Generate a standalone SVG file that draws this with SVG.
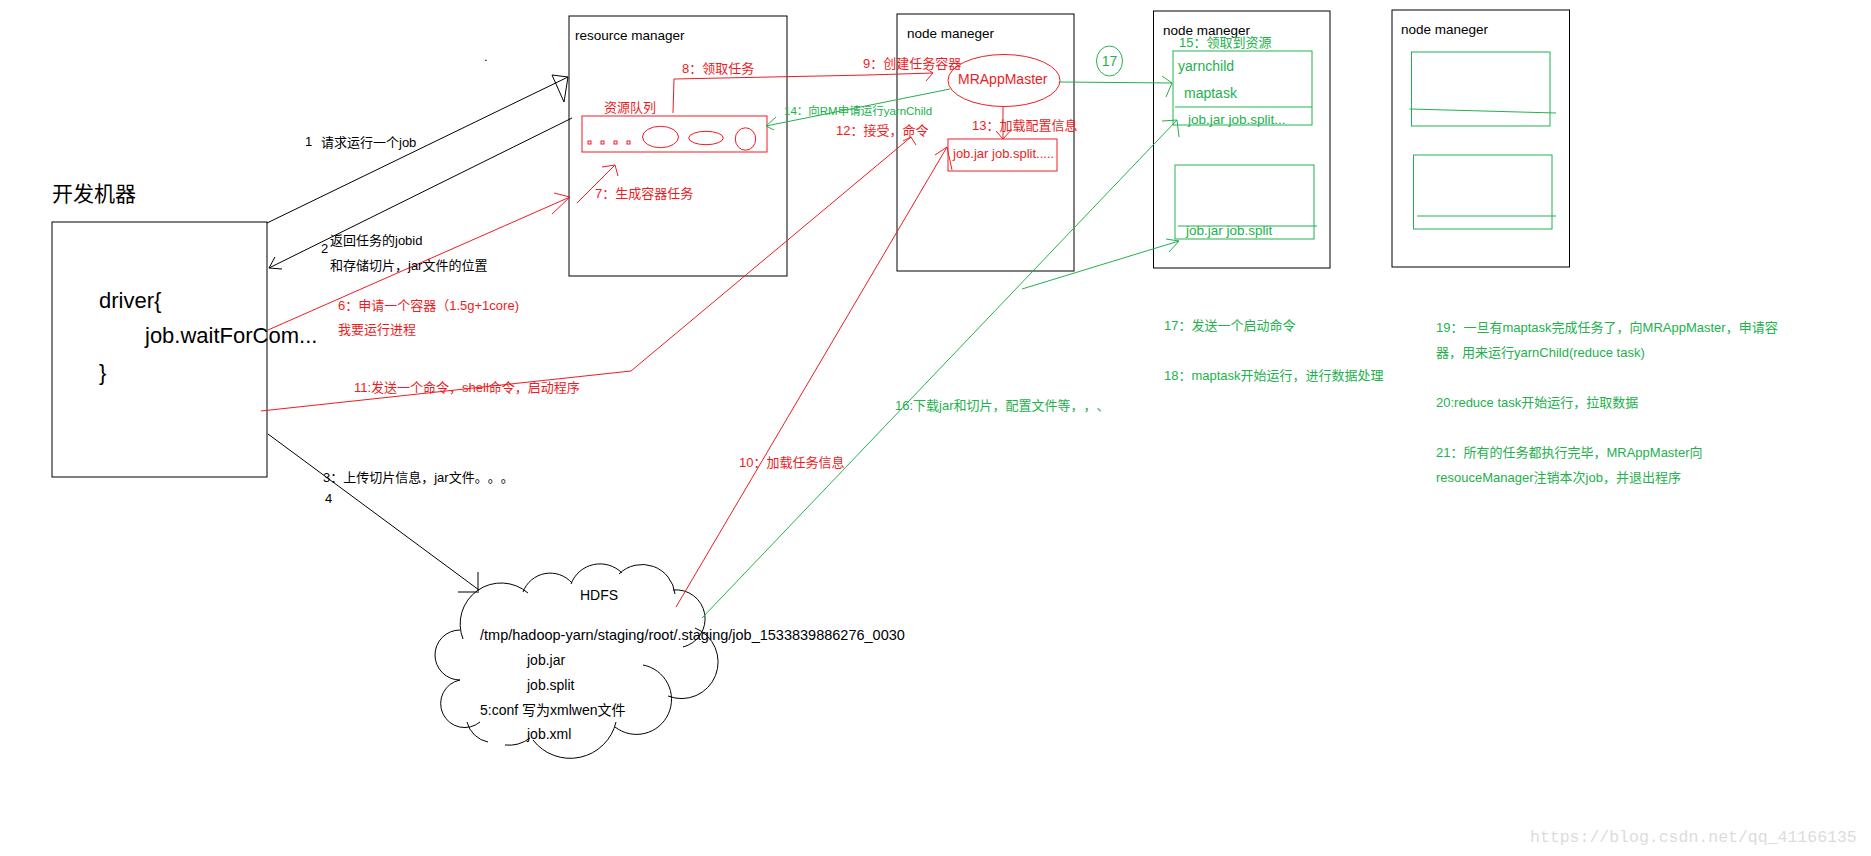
<svg xmlns="http://www.w3.org/2000/svg" width="1871" height="856" viewBox="0 0 1871 856">
<style>
text{font-family:"Liberation Sans","Noto Sans CJK SC",sans-serif;font-size:13px;text-spacing-trim:space-all}
.k{fill:#000}
.r{fill:#ED1C24}
.g{fill:#22B14C}
.sk{fill:none;stroke:#000;stroke-width:1}
.sr{fill:none;stroke:#ED1C24;stroke-width:1}
.sg{fill:none;stroke:#22B14C;stroke-width:1}
.big{font-size:22px}
.t135{font-size:13.5px}
.t14{font-size:14px}
.wm{font-family:"Liberation Mono",monospace;font-size:16.5px;fill:#dcdcdc}
</style>
<rect width="1871" height="856" fill="#fff"/>

<g id="driver">
  <text class="k" x="52" y="201" style="font-size:21px">开发机器</text>
  <rect class="sk" x="52" y="222" width="215" height="255"/>
  <text class="k big" x="99" y="308">driver{</text>
  <text class="k big" x="145" y="343">job.waitForCom...</text>
  <text class="k big" x="99" y="380">}</text>
</g>

<g id="resource-manager">
  <rect class="sk" x="569" y="16" width="218" height="260"/>
  <text class="k t135" x="575" y="40">resource manager</text>
  <text class="k" x="484" y="61">.</text>
</g>

<g id="resource-queue">
  <text class="r" x="604" y="112">资源队列</text>
  <rect class="sr" x="582" y="116" width="185" height="36"/>
  <rect class="sr" x="588" y="141" width="3" height="3"/>
  <rect class="sr" x="601" y="141" width="3" height="3"/>
  <rect class="sr" x="614" y="141" width="3" height="3"/>
  <rect class="sr" x="627" y="141" width="3" height="3"/>
  <ellipse class="sr" cx="660.5" cy="137" rx="18" ry="10.7"/>
  <ellipse class="sr" cx="706" cy="138" rx="17.3" ry="6.7"/>
  <ellipse class="sr" cx="745.5" cy="139" rx="10.2" ry="11.2"/>
</g>

<g id="node-manager-1">
  <rect class="sk" x="897" y="14" width="177" height="257"/>
  <text class="k t135" x="907" y="38">node maneger</text>
</g>

<g id="mrappmaster">
  <ellipse class="sr" cx="1004" cy="80.5" rx="56" ry="26"/>
  <text class="r t14" x="958" y="84">MRAppMaster</text>
</g>

<g id="nm1-files">
  <rect class="sr" x="948" y="139" width="109" height="32"/>
  <text class="r" x="953" y="158">job.jar job.split.....</text>
</g>

<g id="node-manager-2">
  <rect class="sk" x="1153.5" y="11" width="176.5" height="257"/>
  <text class="k t135" x="1163" y="35">node maneger</text>
</g>

<g id="nm2-container-1">
  <rect class="sg" x="1173" y="51" width="139" height="74"/>
  <line class="sg" x1="1175" y1="107" x2="1312" y2="107"/>
  <text class="g t14" x="1178" y="71">yarnchild</text>
  <text class="g t14" x="1184" y="98">maptask</text>
  <text class="g t135" x="1188" y="124">job.jar job.split...</text>
</g>

<g id="nm2-container-2">
  <rect class="sg" x="1175" y="165" width="139" height="74"/>
  <line class="sg" x1="1178" y1="226" x2="1317" y2="226"/>
  <text class="g t135" x="1186" y="235">job.jar job.split</text>
</g>

<g id="node-manager-3">
  <rect class="sk" x="1392" y="10" width="177.5" height="257"/>
  <text class="k t135" x="1401" y="34">node maneger</text>
</g>

<g id="nm3-container-1">
  <rect class="sg" x="1411.5" y="52" width="138.5" height="74"/>
  <line class="sg" x1="1409.5" y1="109" x2="1556" y2="113"/>
</g>

<g id="nm3-container-2">
  <rect class="sg" x="1413.5" y="155" width="138.5" height="74"/>
  <line class="sg" x1="1417" y1="216" x2="1556" y2="216"/>
</g>

<g id="step-17-marker">
  <ellipse class="sg" cx="1109.5" cy="61" rx="13" ry="15"/>
  <text class="g t14" x="1109.5" y="66" text-anchor="middle">17</text>
</g>

<g id="hdfs">
  <path class="sk" d="M463,639 A41,41 0 0 1 528,593
    M523,592 A29,29 0 0 1 572,583
    M571,584 A31,31 0 0 1 622,573
    M619,574 A33,33 0 0 1 675,594
    M673,590 A29,29 0 0 1 683,647
    M695,628 A36,36 0 0 1 668,696
    M643,665 A35,35 0 1 1 615,727
    M616,722 A47,47 0 0 1 533,740
    M530,738 A35,35 0 0 1 505,745
    M488,742 A27,27 0 0 1 467,722
    M480,722 A24,24 0 1 1 460,680
    M460,680 A25,25 0 1 1 460,630"/>
  <text class="k t14" x="580" y="600">HDFS</text>
  <text class="k" x="480" y="640" style="font-size:14.5px">/tmp/hadoop-yarn/staging/root/.staging/job_1533839886276_0030</text>
  <text class="k t14" x="527" y="665">job.jar</text>
  <text class="k t14" x="527" y="690">job.split</text>
  <text class="k t14" x="480" y="715">5:conf 写为xmlwen文件</text>
  <text class="k t14" x="527" y="739">job.xml</text>
</g>

<g id="connectors">
  <path class="sk" d="M267,223 L568,77"/>
  <path class="sk" d="M552,75 L568,77 L564,102 Z"/>
  <path class="sk" d="M572,118 L269,268 M275,257 L269,268 L282,269"/>
  <path class="sk" d="M268,434 L479,590 M478,572 L478,591 M458,592 L479,592"/>
  <path class="sr" d="M268,330 L570,197 M554,193 L570,197 L552,214"/>
  <path class="sr" d="M577,203 L615,165 M602,167 L615,165 L618,176"/>
  <path class="sr" d="M673,113 L674,79 L868,75 L933,73 M925,68 L933,73 L926,81"/>
  <path class="sr" d="M1003,107 L1003,139 M996,131 L1003,139 L1012,129"/>
  <path class="sr" d="M261,411 L631,371 L911,137 M903,141 L911,137 L916,145"/>
  <path class="sr" d="M676,607 L947,147 M935,155 L947,147 L952,170"/>
  <path class="sg" d="M950,89 L766,126 M776,117 L766,126 L774,130"/>
  <path class="sg" d="M1060,82 L1172,83 M1162,76 L1172,83 L1166,97"/>
  <path class="sg" d="M702,618 L1177,120 M1162,121 L1177,120 L1179,137"/>
  <path class="sg" d="M1022,289 L1179,241 M1166,239 L1179,241 L1169,252"/>
</g>

<g id="labels">
  <text class="k" x="305" y="146">1</text>
  <text class="k" x="321" y="147">请求运行一个job</text>
  <text class="k" x="321" y="253">2</text>
  <text class="k" x="330" y="245">返回任务的jobid</text>
  <text class="k" x="330" y="270">和存储切片，jar文件的位置</text>
  <text class="k" x="323" y="482">3：上传切片信息，jar文件。。。</text>
  <text class="k" x="325" y="503">4</text>
  <text class="r" x="338" y="310">6：申请一个容器（1.5g+1core)</text>
  <text class="r" x="338" y="334">我要运行进程</text>
  <text class="r" x="595" y="198">7：生成容器任务</text>
  <text class="r" x="682" y="73">8：领取任务</text>
  <text class="r" x="863" y="68">9：创建任务容器</text>
  <text class="r" x="739" y="467">10：加载任务信息</text>
  <text class="r" x="354" y="392">11:发送一个命令，shell命令，启动程序</text>
  <text class="r" x="836" y="135">12：接受，命令</text>
  <text class="r" x="972" y="130">13：加载配置信息</text>
  <text class="g" x="784" y="115" style="font-size:11.5px">14：向RM申请运行yarnChild</text>
  <text class="g" x="1179" y="47">15：领取到资源</text>
  <text class="g" x="895" y="410">16:下载jar和切片，配置文件等，，、</text>
</g>

<g id="notes">
  <text class="g" x="1164" y="330">17：发送一个启动命令</text>
  <text class="g" x="1164" y="380">18：maptask开始运行，进行数据处理</text>
  <text class="g" x="1436" y="332">19：一旦有maptask完成任务了，向MRAppMaster，申请容</text>
  <text class="g" x="1436" y="357">器，用来运行yarnChild(reduce task)</text>
  <text class="g" x="1436" y="407">20:reduce task开始运行，拉取数据</text>
  <text class="g" x="1436" y="457">21：所有的任务都执行完毕，MRAppMaster向</text>
  <text class="g" x="1436" y="482">resouceManager注销本次job，并退出程序</text>
</g>

<text class="wm" x="1530" y="842">https://blog.csdn.net/qq_41166135</text>
</svg>
